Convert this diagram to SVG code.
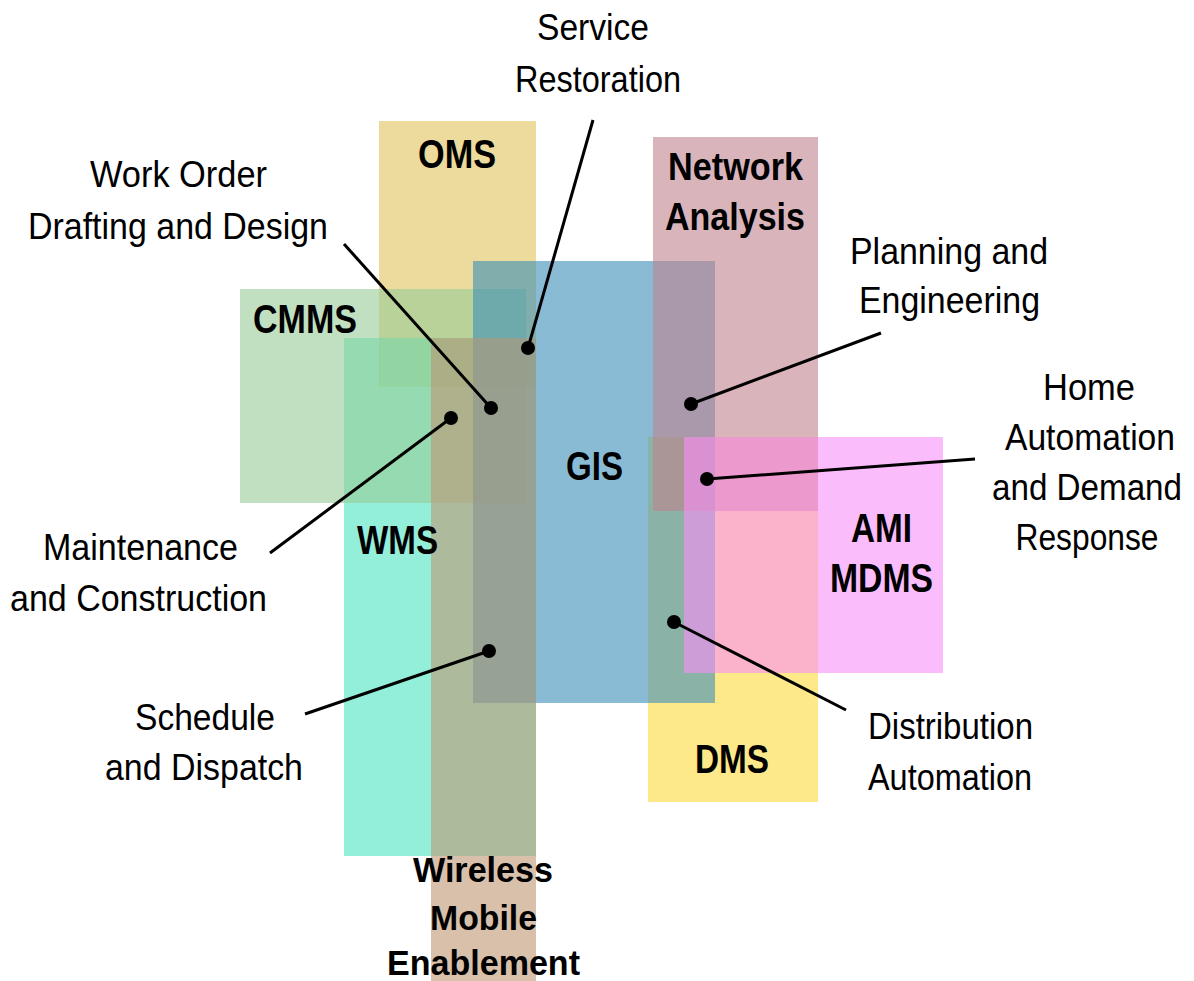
<svg xmlns="http://www.w3.org/2000/svg" width="1194" height="981" viewBox="0 0 1194 981">
<style>
.area{fill-opacity:0.6;stroke:none}
.lbl{font-family:"Liberation Sans",Arial,Helvetica,sans-serif;font-weight:bold;font-size:41px;fill:#000;text-anchor:middle}
.lbl2{font-size:38px}
.lbl3{font-size:35px}
.txt{font-family:"Liberation Sans",Arial,Helvetica,sans-serif;font-size:36px;fill:#000;text-anchor:middle}
.con line{stroke:#000;stroke-width:3}
.con circle{fill:#000}
</style>
<rect width="1194" height="981" fill="#fff"/>
<g id="nodes">
<g id="node-oms"><rect class="area" x="379" y="121" width="157" height="266" fill="#dfc35a"/></g>
<g id="node-wms"><rect class="area" x="344" y="338" width="192" height="518" fill="#4be4c0"/></g>
<g id="node-cmms"><rect class="area" x="240" y="289" width="286" height="214" fill="#98cb98"/></g>
<g id="node-dms"><rect class="area" x="648" y="437" width="170" height="365" fill="#fdda3c"/></g>
<g id="node-gis"><rect class="area" x="473" y="261" width="242" height="442" fill="#3c8eb9"/></g>
<g id="node-wireless"><rect class="area" x="431" y="338" width="105" height="643" fill="#be9673"/></g>
<g id="node-network"><rect class="area" x="653" y="137" width="165" height="374" fill="#c0828e"/></g>
<g id="node-ami"><rect class="area" x="684" y="437" width="259" height="236" fill="#f88ff8"/></g>
</g>
<g id="labels">
<text id="label-oms" class="lbl" x="457" y="168" textLength="78" lengthAdjust="spacingAndGlyphs">OMS</text>
<text id="label-cmms" class="lbl" x="305" y="333" textLength="104" lengthAdjust="spacingAndGlyphs">CMMS</text>
<text id="label-gis" class="lbl" x="594.5" y="480" textLength="57" lengthAdjust="spacingAndGlyphs">GIS</text>
<text id="label-wms" class="lbl" x="397.5" y="554" textLength="81" lengthAdjust="spacingAndGlyphs">WMS</text>
<text id="label-ami" class="lbl" x="881.5" y="542" textLength="61" lengthAdjust="spacingAndGlyphs">AMI</text>
<text class="lbl" x="881.5" y="592" textLength="103" lengthAdjust="spacingAndGlyphs">MDMS</text>
<text id="label-dms" class="lbl" x="732" y="773" textLength="74" lengthAdjust="spacingAndGlyphs">DMS</text>
<text id="label-network" class="lbl lbl2" x="735.5" y="180" textLength="135" lengthAdjust="spacingAndGlyphs">Network</text>
<text class="lbl lbl2" x="735" y="230" textLength="140" lengthAdjust="spacingAndGlyphs">Analysis</text>
<text id="label-wireless" class="lbl lbl3" x="483" y="882" textLength="140" lengthAdjust="spacingAndGlyphs">Wireless</text>
<text class="lbl lbl3" x="483.5" y="930" textLength="107" lengthAdjust="spacingAndGlyphs">Mobile</text>
<text class="lbl lbl3" x="483.5" y="975" textLength="193" lengthAdjust="spacingAndGlyphs">Enablement</text>
</g>
<g id="connectors" class="con">
<line x1="593" y1="120" x2="528" y2="348"/><circle cx="528" cy="348" r="7"/>
<line x1="344" y1="244" x2="491" y2="408"/><circle cx="491" cy="408" r="7"/>
<line x1="270" y1="553" x2="451" y2="418"/><circle cx="451" cy="418" r="7"/>
<line x1="305" y1="714" x2="489" y2="651"/><circle cx="489" cy="651" r="7"/>
<line x1="881" y1="333" x2="691" y2="404"/><circle cx="691" cy="404" r="7"/>
<line x1="975" y1="459" x2="707" y2="479"/><circle cx="707" cy="479" r="7"/>
<line x1="846" y1="710" x2="674" y2="622"/><circle cx="674" cy="622" r="7"/>
</g>
<g id="callouts">
<text class="txt" x="593" y="40" textLength="112" lengthAdjust="spacingAndGlyphs">Service</text>
<text class="txt" x="598" y="92" textLength="166" lengthAdjust="spacingAndGlyphs">Restoration</text>
<text class="txt" x="178.5" y="187" textLength="177" lengthAdjust="spacingAndGlyphs">Work Order</text>
<text class="txt" x="178" y="239" textLength="300" lengthAdjust="spacingAndGlyphs">Drafting and Design</text>
<text class="txt" x="949" y="264" textLength="198" lengthAdjust="spacingAndGlyphs">Planning and</text>
<text class="txt" x="949.5" y="313" textLength="181" lengthAdjust="spacingAndGlyphs">Engineering</text>
<text class="txt" x="1089" y="400" textLength="92" lengthAdjust="spacingAndGlyphs">Home</text>
<text class="txt" x="1090" y="450" textLength="170" lengthAdjust="spacingAndGlyphs">Automation</text>
<text class="txt" x="1087" y="500" textLength="190" lengthAdjust="spacingAndGlyphs">and Demand</text>
<text class="txt" x="1087" y="550" textLength="143" lengthAdjust="spacingAndGlyphs">Response</text>
<text class="txt" x="140.5" y="560" textLength="195" lengthAdjust="spacingAndGlyphs">Maintenance</text>
<text class="txt" x="138.5" y="611" textLength="257" lengthAdjust="spacingAndGlyphs">and Construction</text>
<text class="txt" x="205" y="730" textLength="140" lengthAdjust="spacingAndGlyphs">Schedule</text>
<text class="txt" x="204" y="780" textLength="198" lengthAdjust="spacingAndGlyphs">and Dispatch</text>
<text class="txt" x="950.5" y="739" textLength="165" lengthAdjust="spacingAndGlyphs">Distribution</text>
<text class="txt" x="950" y="790" textLength="164" lengthAdjust="spacingAndGlyphs">Automation</text>
</g>
</svg>
